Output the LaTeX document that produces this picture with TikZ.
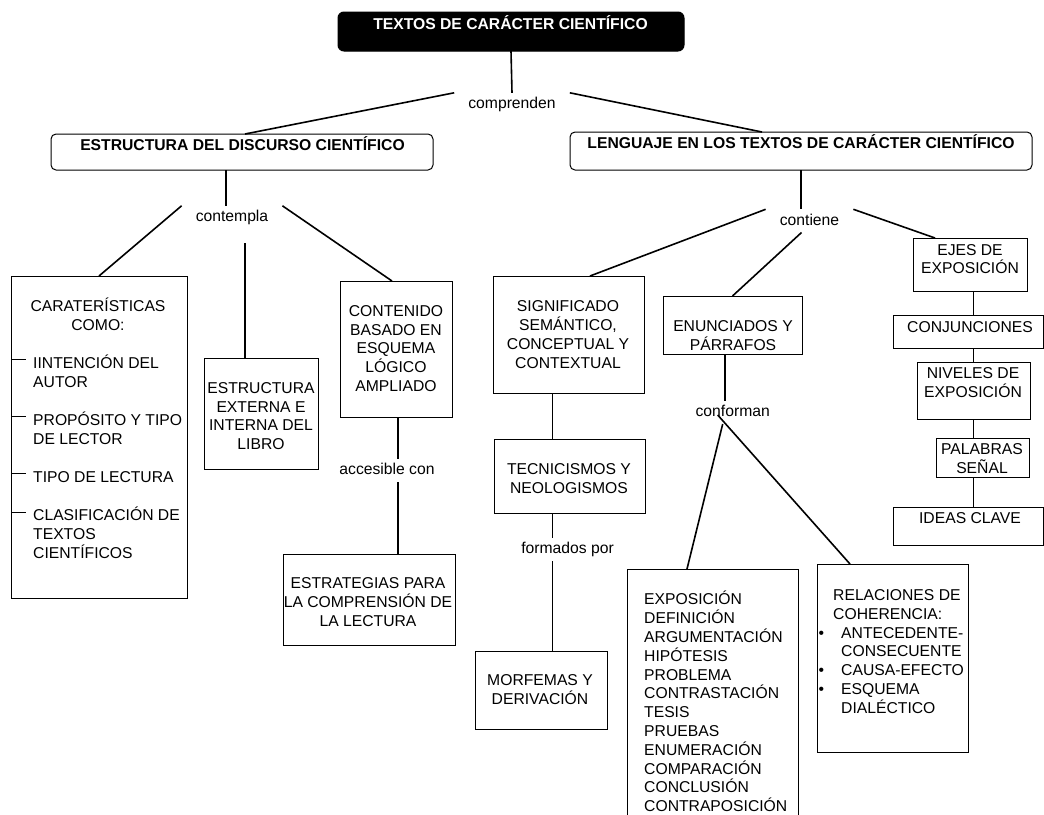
\documentclass[tikz,border=0pt]{standalone}
\usepackage{fontspec}
\setmainfont{Liberation Sans}
\usepackage{tikz}
\usetikzlibrary{positioning}

\newcommand{\mapsize}{\fontsize{15.7}{18.8}\selectfont}
\newcommand{\bul}{\makebox[8pt][l]{\makebox[0pt][r]{\textbullet\hspace{9pt}}}}

\begin{document}
\begin{tikzpicture}[x=1pt, y=-1pt,
    frame/.style={draw, line width=1pt, inner sep=0pt, outer sep=0pt},
    titlebox/.style={frame, rounded corners=5pt},
    txt/.style={font=\mapsize, inner sep=0pt, align=center},
    head/.style={font=\mapsize\bfseries, inner sep=0pt, anchor=base},
    lbl/.style={font=\mapsize, text height=11.5pt, text depth=3.3pt,
                inner xsep=14pt, inner ysep=4pt, anchor=base},
    link/.style={line width=1.6pt}]
  \path[use as bounding box, fill=white] (0,0) rectangle (1044,814);
  \clip (0,0) rectangle (1044,814);

  % Main topic
  \node[frame, fill=black, rounded corners=6pt, minimum width=346pt, minimum height=39pt] (top) at (511,31.5) {};
  \node[head, text=white] (top-t) at (510.5,29.3) {TEXTOS DE CARÁCTER CIENTÍFICO};
  \node[lbl] (comprenden) at (512,108.5) {comprenden};

  % Two branches
  \node[titlebox, minimum width=382pt, minimum height=36pt] (estr) at (242,152) {};
  \node[head] (estr-t) at (242.5,150.5) {ESTRUCTURA DEL DISCURSO CIENTÍFICO};
  \node[titlebox, minimum width=462pt, minimum height=38pt] (leng) at (801,151) {};
  \node[head] (leng-t) at (801,148.3) {LENGUAJE EN LOS TEXTOS DE CARÁCTER CIENTÍFICO};

  % Left branch
  \node[lbl] (contempla) at (232,221.5) {contempla};
  \node[frame, minimum width=176pt, minimum height=322pt] (carat) at (99,437) {};
  \node[txt] (carat-t) at (98,314.5) {CARATERÍSTICAS\\COMO:};
  \node[txt, align=left, anchor=west] (item1) at (33,371.5) {IINTENCIÓN DEL\\AUTOR};
  \node[txt, align=left, anchor=west] (item2) at (33,428) {PROPÓSITO Y TIPO\\DE LECTOR};
  \node[txt, align=left, anchor=west] (item3) at (33,477) {TIPO DE LECTURA};
  \node[txt, align=left, anchor=west] (item4) at (33,532.5) {CLASIFICACIÓN DE\\TEXTOS\\CIENTÍFICOS};
  \foreach \y in {359,416,473,512}
    \draw[line width=1pt] (carat.west |- 0,\y) -- ++(15,0);

  \node[frame, minimum width=114pt, minimum height=111pt] (ext) at (261,413.5) {};
  \node[txt] (ext-t) at (261,416) {ESTRUCTURA\\EXTERNA E\\INTERNA DEL\\LIBRO};
  \coordinate (stub) at (245,243);

  \node[frame, minimum width=112pt, minimum height=136pt] (cont) at (396,349) {};
  \node[txt] (cont-t) at (396,348.5) {CONTENIDO\\BASADO EN\\ESQUEMA\\LÓGICO\\AMPLIADO};
  \node[lbl] (accesible) at (387,474.3) {accesible con};
  \node[frame, minimum width=172pt, minimum height=91pt] (est) at (369,599.5) {};
  \node[txt] (est-t) at (368,602) {ESTRATEGIAS PARA\\LA COMPRENSIÓN DE\\LA LECTURA};

  % Right branch
  \node[lbl] (contiene) at (809.5,225) {contiene};

  \node[frame, minimum width=151pt, minimum height=117pt] (sig) at (568.5,334.5) {};
  \node[txt] (sig-t) at (568,334.5) {SIGNIFICADO\\SEMÁNTICO,\\CONCEPTUAL Y\\CONTEXTUAL};
  \node[frame, minimum width=151pt, minimum height=74pt] (tec) at (569.5,476) {};
  \node[txt] (tec-t) at (569,478.5) {TECNICISMOS Y\\NEOLOGISMOS};
  \node[lbl] (formados) at (567.5,553.3) {formados por};
  \node[frame, minimum width=132pt, minimum height=78pt] (mor) at (541,690) {};
  \node[txt] (mor-t) at (540,689.5) {MORFEMAS Y\\DERIVACIÓN};

  \node[frame, minimum width=139pt, minimum height=58pt] (enun) at (732.5,325) {};
  \node[txt] (enun-t) at (733,335.5) {ENUNCIADOS Y\\PÁRRAFOS};
  \node[lbl] (conforman) at (732.7,416.5) {conforman};
  \node[frame, minimum width=171pt, minimum height=262pt] (lista) at (712.5,700) {};
  \node[txt, align=left, anchor=west] (lista-t) at (644,701.5)
    {EXPOSICIÓN\\DEFINICIÓN\\ARGUMENTACIÓN\\HIPÓTESIS\\PROBLEMA\\CONTRASTACIÓN\\TESIS\\PRUEBAS\\ENUMERACIÓN\\COMPARACIÓN\\CONCLUSIÓN\\CONTRAPOSICIÓN};
  \node[frame, minimum width=151pt, minimum height=188pt] (rel) at (892.5,658) {};
  \node[txt, align=left, anchor=west] (rel-t) at (833,651.5)
    {RELACIONES DE\\COHERENCIA:\\\bul ANTECEDENTE-\\\hspace*{8pt}CONSECUENTE\\\bul CAUSA-EFECTO\\\bul ESQUEMA\\\hspace*{8pt}DIALÉCTICO};

  % Column of boxes on the far right
  \node[frame, minimum width=114pt, minimum height=53pt] (ejes) at (970,264.5) {};
  \node[txt] (ejes-t) at (970,259) {EJES DE\\EXPOSICIÓN};
  \node[frame, minimum width=150pt, minimum height=33pt] (conj) at (968,331.5) {};
  \node[txt] (conj-t) at (970,327) {CONJUNCIONES};
  \node[frame, minimum width=113pt, minimum height=57pt] (niv) at (973.5,390.5) {};
  \node[txt] (niv-t) at (973,382.5) {NIVELES DE\\EXPOSICIÓN};
  \node[frame, minimum width=93pt, minimum height=39pt] (pal) at (982.5,457.5) {};
  \node[txt] (pal-t) at (982,458.5) {PALABRAS\\SEÑAL};
  \node[frame, minimum width=150pt, minimum height=38pt] (ideas) at (968,526) {};
  \node[txt] (ideas-t) at (970,518) {IDEAS CLAVE};

  % Links
  \draw[link] (top.south) -- (comprenden.north);
  \draw[link] (comprenden.north west) -- ([xshift=3pt]estr.north);
  \draw[link] (comprenden.north east) -- ([xshift=-39pt]leng.north);

  \draw[link] ([xshift=-16pt]estr.south) -- ([xshift=-16pt]estr.south |- contempla.north);
  \draw[link] (contempla.north west) -- (carat.north);
  \draw[link] (contempla.north east) -- ([xshift=-4pt]cont.north);
  \draw[link] (stub) -- (stub |- ext.north);
  \draw[link] ([xshift=2pt]cont.south) -- ([xshift=2pt]cont.south |- accesible.north);
  \draw[link] ([xshift=29pt]est.north) -- ([xshift=29pt]est.north |- accesible.south);

  \draw[link] (leng.south) -- (leng.south |- contiene.north);
  \draw[link] (contiene.north west) -- ([xshift=21.5pt]sig.north);
  \draw[link] ([xshift=-8pt]contiene.south) -- (enun.north);
  \draw[link] (contiene.north east) -- ([xshift=-35pt]ejes.north);

  \draw[link] ([xshift=-16pt]sig.south) -- ([xshift=-16pt]sig.south |- tec.north);
  \draw[link] ([xshift=-17pt]tec.south) -- ([xshift=-17pt]tec.south |- formados.north);
  \draw[link] ([xshift=11.5pt]mor.north) -- ([xshift=11.5pt]mor.north |- formados.south);

  \draw[link] ([xshift=-7.5pt]enun.south) -- ([xshift=-7.5pt]enun.south |- conforman.north);
  \draw[link] ([xshift=-10pt,yshift=-7.5pt]conforman.base) -- ([xshift=-25.5pt]lista.north);
  \draw[link] ([xshift=-15pt,yshift=1.5pt]conforman.base) -- ([xshift=-42.5pt]rel.north);

  \draw[link] (ejes.south -| niv) -- (conj.north -| niv);
  \draw[link] (conj.south -| niv) -- (niv.north);
  \draw[link] (niv.south) -- (pal.north -| niv);
  \draw[link] (pal.south -| niv) -- (ideas.north -| niv);
\end{tikzpicture}
\end{document}
